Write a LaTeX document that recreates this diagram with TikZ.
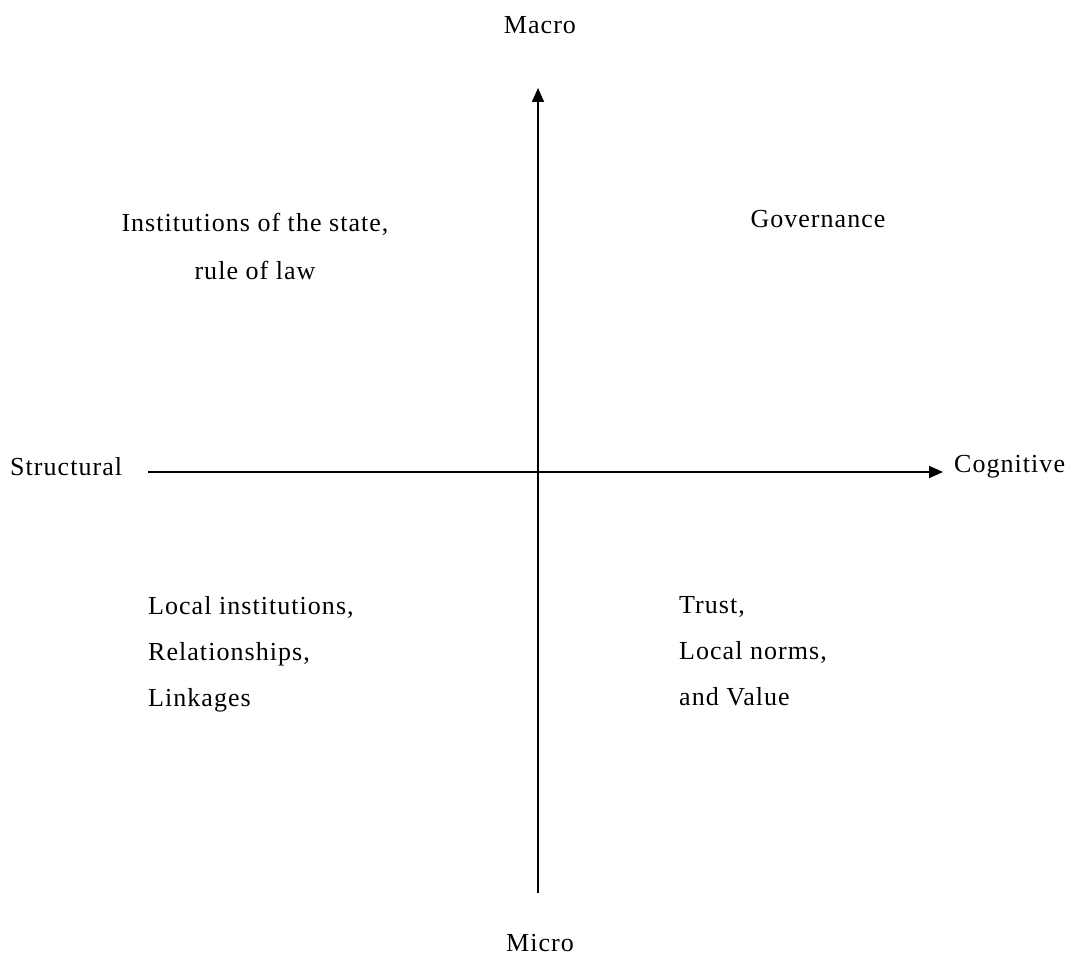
\documentclass[tikz,border=0pt]{standalone}
\usepackage{fontspec}
\setmainfont[LetterSpace=4]{Liberation Serif}
\usetikzlibrary{arrows.meta}
\begin{document}
\begin{tikzpicture}[x=1pt,y=-1pt,
  lbl/.style={font=\fontsize{26}{30}\selectfont, inner sep=0pt},
  axis/.style={line width=1.8pt, -{Triangle[length=14pt,width=12pt]}}]
\useasboundingbox (0,0) rectangle (1075,965);
\coordinate (vb) at (538,893);
\coordinate (vt) at (538,88);
\coordinate (hl) at (148,472);
\coordinate (hr) at (943,472);
\draw[axis] (vb) -- (vt);
\draw[axis] (hl) -- (hr);
\node[lbl] (macro) at (540,25) {Macro};
\node[lbl] (micro) at (540,943) {Micro};
\node[lbl,anchor=west] (struct) at (10,467) {Structural};
\node[lbl,anchor=west] (cog) at (954,467) {Cognitive};
\node[lbl,align=center] (q1) at (255,246) {Institutions of the state,\\[18pt]rule of law};
\node[lbl] (q2) at (818,219) {Governance};
\node[lbl,align=left,anchor=north west] (q3) at (148,596) {Local institutions,\\[16pt]Relationships,\\[16pt]Linkages};
\node[lbl,align=left,anchor=north west] (q4) at (679,596) {Trust,\\[16pt]Local norms,\\[16pt]and Value};
\end{tikzpicture}
\end{document}
